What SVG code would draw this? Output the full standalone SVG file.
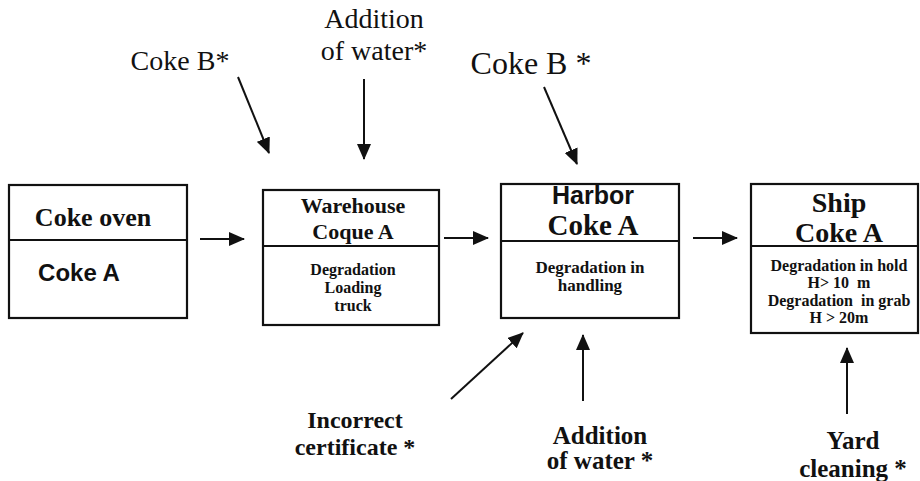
<svg xmlns="http://www.w3.org/2000/svg" width="920" height="481" viewBox="0 0 920 481">
<defs>
<style>
.box{fill:#fff;stroke:#111;stroke-width:2.2}
.div{stroke:#111;stroke-width:2}
.c{stroke:#111;stroke-width:2;fill:none;marker-end:url(#ah)}
.sb{font-family:"Liberation Serif","Times New Roman",serif;font-weight:bold;fill:#111;text-anchor:middle}
.sr{font-family:"Liberation Serif","Times New Roman",serif;fill:#111;text-anchor:middle}
.ab{font-family:"Liberation Sans",Arial,sans-serif;font-weight:bold;fill:#111;text-anchor:middle}
</style>
<marker id="ah" viewBox="0 0 16 14" refX="15" refY="7" markerWidth="16" markerHeight="14" markerUnits="userSpaceOnUse" orient="auto">
<path d="M0,0 L16,7 L0,14 z" fill="#111"/>
</marker>
</defs>
<rect width="920" height="481" fill="#fff"/>

<g id="coke-oven">
<rect class="box" x="9" y="185" width="178" height="133"/>
<line class="div" x1="9" y1="240" x2="187" y2="240"/>
<text class="sb" x="93" y="226" font-size="26">Coke oven</text>
<text class="ab" x="79" y="281" font-size="24">Coke A</text>
</g>

<g id="warehouse">
<rect class="box" x="263" y="190" width="176" height="135"/>
<line class="div" x1="263" y1="246" x2="439" y2="246"/>
<text class="sb" x="353" y="213" font-size="22">Warehouse</text>
<text class="sb" x="353" y="239" font-size="22">Coque A</text>
<text class="sb" x="353" y="275" font-size="16">Degradation</text>
<text class="sb" x="353" y="293" font-size="16">Loading</text>
<text class="sb" x="353" y="311" font-size="16">truck</text>
</g>

<g id="harbor">
<rect class="box" x="501" y="184" width="178" height="134"/>
<line class="div" x1="501" y1="241" x2="679" y2="241"/>
<text class="ab" x="593" y="204" font-size="25">Harbor</text>
<text class="sb" x="593" y="235" font-size="29">Coke A</text>
<text class="sb" x="590" y="273" font-size="17">Degradation in</text>
<text class="sb" x="590" y="291" font-size="17">handling</text>
</g>

<g id="ship">
<rect class="box" x="751" y="184" width="167" height="149"/>
<line class="div" x1="751" y1="246" x2="918" y2="246"/>
<text class="sb" x="839" y="212" font-size="28">Ship</text>
<text class="sb" x="839" y="242" font-size="28">Coke A</text>
<text class="sb" x="839" y="271" font-size="16" xml:space="preserve">Degradation in hold</text>
<text class="sb" x="839" y="288" font-size="16" xml:space="preserve">H&gt; 10  m</text>
<text class="sb" x="839" y="306" font-size="16" xml:space="preserve">Degradation  in grab</text>
<text class="sb" x="839" y="323" font-size="16">H &gt; 20m</text>
</g>

<g id="coke-b-1">
<text class="sr" x="180" y="70" font-size="28">Coke B*</text>
</g>
<g id="water-1">
<text class="sr" x="374" y="28" font-size="28">Addition</text>
<text class="sr" x="374" y="60" font-size="28">of water*</text>
</g>
<g id="coke-b-2">
<text class="sr" x="531" y="74" font-size="32">Coke B *</text>
</g>
<g id="incorrect-certificate">
<text class="sb" x="355" y="428" font-size="24">Incorrect</text>
<text class="sb" x="355" y="455" font-size="24">certificate *</text>
</g>
<g id="water-2">
<text class="sb" x="600" y="444" font-size="25">Addition</text>
<text class="sb" x="600" y="469" font-size="25">of water *</text>
</g>
<g id="yard-cleaning">
<text class="sb" x="853" y="449" font-size="25">Yard</text>
<text class="sb" x="853" y="477" font-size="25">cleaning *</text>
</g>

<g id="connectors">
<line class="c" x1="200" y1="239" x2="244" y2="239"/>
<line class="c" x1="444" y1="238" x2="488" y2="238"/>
<line class="c" x1="693" y1="238" x2="737" y2="238"/>
<line class="c" x1="238" y1="77" x2="269" y2="153"/>
<line class="c" x1="364" y1="79" x2="364" y2="159"/>
<line class="c" x1="544" y1="87" x2="577" y2="164"/>
<line class="c" x1="451" y1="399" x2="523" y2="333"/>
<line class="c" x1="583" y1="401" x2="583" y2="335"/>
<line class="c" x1="847" y1="414" x2="847" y2="348"/>
</g>
</svg>
